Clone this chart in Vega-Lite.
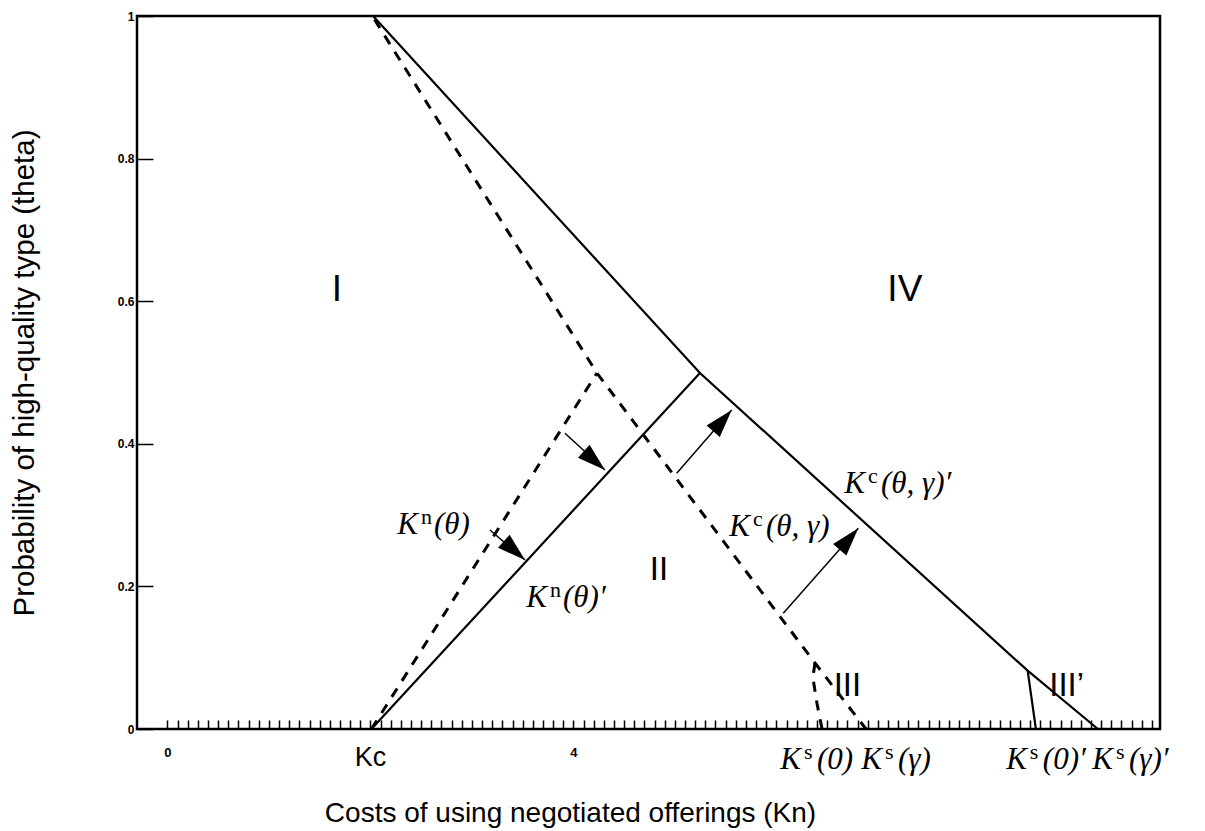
{
  "$schema": "https://vega.github.io/schema/vega-lite/v6.json",
  "width": 1023,
  "height": 713,
  "autosize": {"type": "none"},
  "padding": {"left": 137, "top": 16, "right": 45, "bottom": 102},
  "background": "white",
  "config": {
    "view": {"stroke": "black", "strokeWidth": 2.5},
    "font": "Liberation Sans"
  },
  "datasets": {
    "curves": [
      {"series": "Kc(θ,γ)'", "o": 1, "x": 2.026, "y": 1.0},
      {"series": "Kc(θ,γ)'", "o": 2, "x": 5.247, "y": 0.4993},
      {"series": "Kc(θ,γ)'", "o": 3, "x": 8.476, "y": 0.0818},
      {"series": "Kc(θ,γ)'", "o": 4, "x": 9.168, "y": 0.0},
      {"series": "Ks(0)'", "o": 1, "x": 8.476, "y": 0.0818},
      {"series": "Ks(0)'", "o": 2, "x": 8.557, "y": 0.0},
      {"series": "Kn(θ)'", "o": 1, "x": 2.01, "y": 0.0},
      {"series": "Kn(θ)'", "o": 2, "x": 5.247, "y": 0.4993},
      {"series": "Kc(θ,γ)", "o": 1, "x": 2.04, "y": 0.995},
      {"series": "Kc(θ,γ)", "o": 2, "x": 4.232, "y": 0.4993},
      {"series": "Kc(θ,γ)", "o": 3, "x": 6.38, "y": 0.0926},
      {"series": "Kc(θ,γ)", "o": 4, "x": 6.883, "y": 0.0},
      {"series": "Ks(0)", "o": 1, "x": 6.38, "y": 0.0926},
      {"series": "Ks(0)", "o": 2, "x": 6.36, "y": 0.072},
      {"series": "Ks(0)", "o": 3, "x": 6.4, "y": 0.036},
      {"series": "Ks(0)", "o": 4, "x": 6.45, "y": 0.0},
      {"series": "Kn(θ)", "o": 1, "x": 2.01, "y": 0.0},
      {"series": "Kn(θ)", "o": 2, "x": 4.232, "y": 0.4993}
    ],
    "arrows": [
      {"shift": "Kn", "x": 3.917, "y": 0.4147, "xe": 4.311, "ye": 0.3633},
      {"shift": "Kn", "x": 3.178, "y": 0.2791, "xe": 3.523, "ye": 0.237},
      {"shift": "Kc", "x": 5.018, "y": 0.3586, "xe": 5.56, "ye": 0.4474},
      {"shift": "Kc", "x": 6.068, "y": 0.1623, "xe": 6.807, "ye": 0.2815}
    ],
    "mathLabels": [
      {"base": "K", "sup": "n", "rest": "(θ)", "x": 2.469, "y": 0.286},
      {"base": "K", "sup": "n", "rest": "(θ)′", "x": 3.74, "y": 0.184},
      {"base": "K", "sup": "c", "rest": "(θ, γ)", "x": 5.74, "y": 0.283},
      {"base": "K", "sup": "c", "rest": "(θ, γ)′", "x": 6.873, "y": 0.344},
      {"base": "K", "sup": "s", "rest": "(0)", "x": 6.243, "y": -0.043},
      {"base": "K", "sup": "s", "rest": "(γ)", "x": 7.04, "y": -0.043},
      {"base": "K", "sup": "s", "rest": "(0)′", "x": 8.468, "y": -0.043},
      {"base": "K", "sup": "s", "rest": "(γ)′", "x": 9.316, "y": -0.043}
    ],
    "labels": [
      {"role": "cost", "text": "Kc", "x": 2.0, "y": -0.041},
      {"role": "region", "text": "I", "x": 1.67, "y": 0.616},
      {"role": "region", "text": "IV", "x": 7.266, "y": 0.616},
      {"role": "subregion", "text": "II", "x": 4.843, "y": 0.223},
      {"role": "subregion", "text": "III", "x": 6.7, "y": 0.06},
      {"role": "subregion", "text": "III’", "x": 8.86, "y": 0.06}
    ]
  },
  "encoding": {
    "x": {
      "field": "x",
      "type": "quantitative",
      "scale": {"domain": [-0.3, 9.78], "nice": false, "zero": false},
      "axis": {
        "title": "Costs of using negotiated offerings  (Kn)",
        "tickCount": 100,
        "format": "~g",
        "tickSize": -9,
        "tickWidth": 1.5,
        "tickColor": "black",
        "tickOpacity": {"condition": {"test": "datum.value < -0.001", "value": 0}, "value": 1},
        "domain": false,
        "grid": false,
        "labelExpr": "abs(datum.value) < 0.001 || abs(datum.value - 4) < 0.001 ? datum.label : ''",
        "labelOverlap": false,
        "labelFlush": false,
        "labelFont": "Liberation Sans",
        "labelFontWeight": "bold",
        "labelFontSize": 13,
        "labelColor": "black",
        "labelPadding": 26,
        "titleFont": "Liberation Sans",
        "titleFontSize": 28,
        "titleFontWeight": "normal",
        "titleColor": "black",
        "titleX": 433,
        "titleY": 92,
        "titleAlign": "center",
        "titleBaseline": "alphabetic"
      }
    },
    "y": {
      "field": "y",
      "type": "quantitative",
      "scale": {"domain": [0, 1], "nice": false, "zero": false},
      "axis": {
        "title": "Probability of high-quality type (theta)",
        "values": [0, 0.2, 0.4, 0.6, 0.8, 1],
        "format": "~g",
        "tickSize": -16,
        "tickWidth": 1.5,
        "tickColor": "black",
        "domain": false,
        "grid": false,
        "labelFont": "Liberation Sans",
        "labelFontWeight": "bold",
        "labelFontSize": 12,
        "labelColor": "black",
        "labelPadding": 19,
        "titleFont": "Liberation Sans",
        "titleFontSize": 29.5,
        "titleFontWeight": "normal",
        "titleColor": "black",
        "titleAngle": -90,
        "titleX": -104,
        "titleY": 356.5,
        "titleAlign": "center",
        "titleBaseline": "alphabetic"
      }
    }
  },
  "layer": [
    {
      "data": {"name": "curves"},
      "transform": [{"filter": {"field": "series", "oneOf": ["Kc(θ,γ)'", "Ks(0)'", "Kn(θ)'"]}}],
      "mark": {"type": "line", "color": "black", "strokeWidth": 2.2, "interpolate": "linear", "strokeJoin": "miter"},
      "encoding": {
        "detail": {"field": "series"},
        "order": {"field": "o", "type": "quantitative"}
      }
    },
    {
      "data": {"name": "curves"},
      "transform": [{"filter": {"field": "series", "oneOf": ["Kc(θ,γ)", "Ks(0)", "Kn(θ)"]}}],
      "mark": {"type": "line", "color": "black", "strokeWidth": 3, "strokeDash": [10, 9], "interpolate": "linear"},
      "encoding": {
        "detail": {"field": "series"},
        "order": {"field": "o", "type": "quantitative"}
      }
    },
    {
      "data": {"name": "arrows"},
      "mark": {"type": "rule", "color": "black", "strokeWidth": 1.5},
      "encoding": {
        "x2": {"field": "xe"},
        "y2": {"field": "ye"}
      }
    },
    {
      "data": {"name": "arrows"},
      "transform": [{"filter": "datum.shift === 'Kn'"}],
      "mark": {"type": "point", "shape": "M0,0L-2,-0.62L-2,0.62Z", "filled": true, "color": "black", "opacity": 1, "strokeWidth": 0, "size": 800, "angle": 41.5},
      "encoding": {
        "x": {"field": "xe", "type": "quantitative"},
        "y": {"field": "ye", "type": "quantitative"}
      }
    },
    {
      "data": {"name": "arrows"},
      "transform": [{"filter": "datum.shift === 'Kc'"}],
      "mark": {"type": "point", "shape": "M0,0L-2,-0.62L-2,0.62Z", "filled": true, "color": "black", "opacity": 1, "strokeWidth": 0, "size": 800, "angle": 311},
      "encoding": {
        "x": {"field": "xe", "type": "quantitative"},
        "y": {"field": "ye", "type": "quantitative"}
      }
    },
    {
      "data": {"name": "mathLabels"},
      "mark": {"type": "text", "font": "Liberation Serif", "fontStyle": "italic", "fontSize": 31, "color": "black", "align": "right", "baseline": "middle"},
      "encoding": {"text": {"field": "base"}}
    },
    {
      "data": {"name": "mathLabels"},
      "mark": {"type": "text", "font": "Liberation Serif", "fontSize": 22, "color": "black", "align": "left", "baseline": "middle", "dx": 3, "dy": -8},
      "encoding": {"text": {"field": "sup"}}
    },
    {
      "data": {"name": "mathLabels"},
      "mark": {"type": "text", "font": "Liberation Serif", "fontStyle": "italic", "fontSize": 31, "color": "black", "align": "left", "baseline": "middle", "dx": 16},
      "encoding": {"text": {"field": "rest"}}
    },
    {
      "data": {"name": "labels"},
      "transform": [{"filter": "datum.role === 'cost'"}],
      "mark": {"type": "text", "font": "Liberation Sans", "fontSize": 27, "color": "black", "align": "center", "baseline": "middle"},
      "encoding": {"text": {"field": "text"}}
    },
    {
      "data": {"name": "labels"},
      "transform": [{"filter": "datum.role === 'region'"}],
      "mark": {"type": "text", "font": "Liberation Sans", "fontSize": 37, "color": "black", "align": "center", "baseline": "middle"},
      "encoding": {"text": {"field": "text"}}
    },
    {
      "data": {"name": "labels"},
      "transform": [{"filter": "datum.role === 'subregion'"}],
      "mark": {"type": "text", "font": "Liberation Sans", "fontSize": 33, "color": "black", "align": "center", "baseline": "middle"},
      "encoding": {"text": {"field": "text"}}
    }
  ]
}
